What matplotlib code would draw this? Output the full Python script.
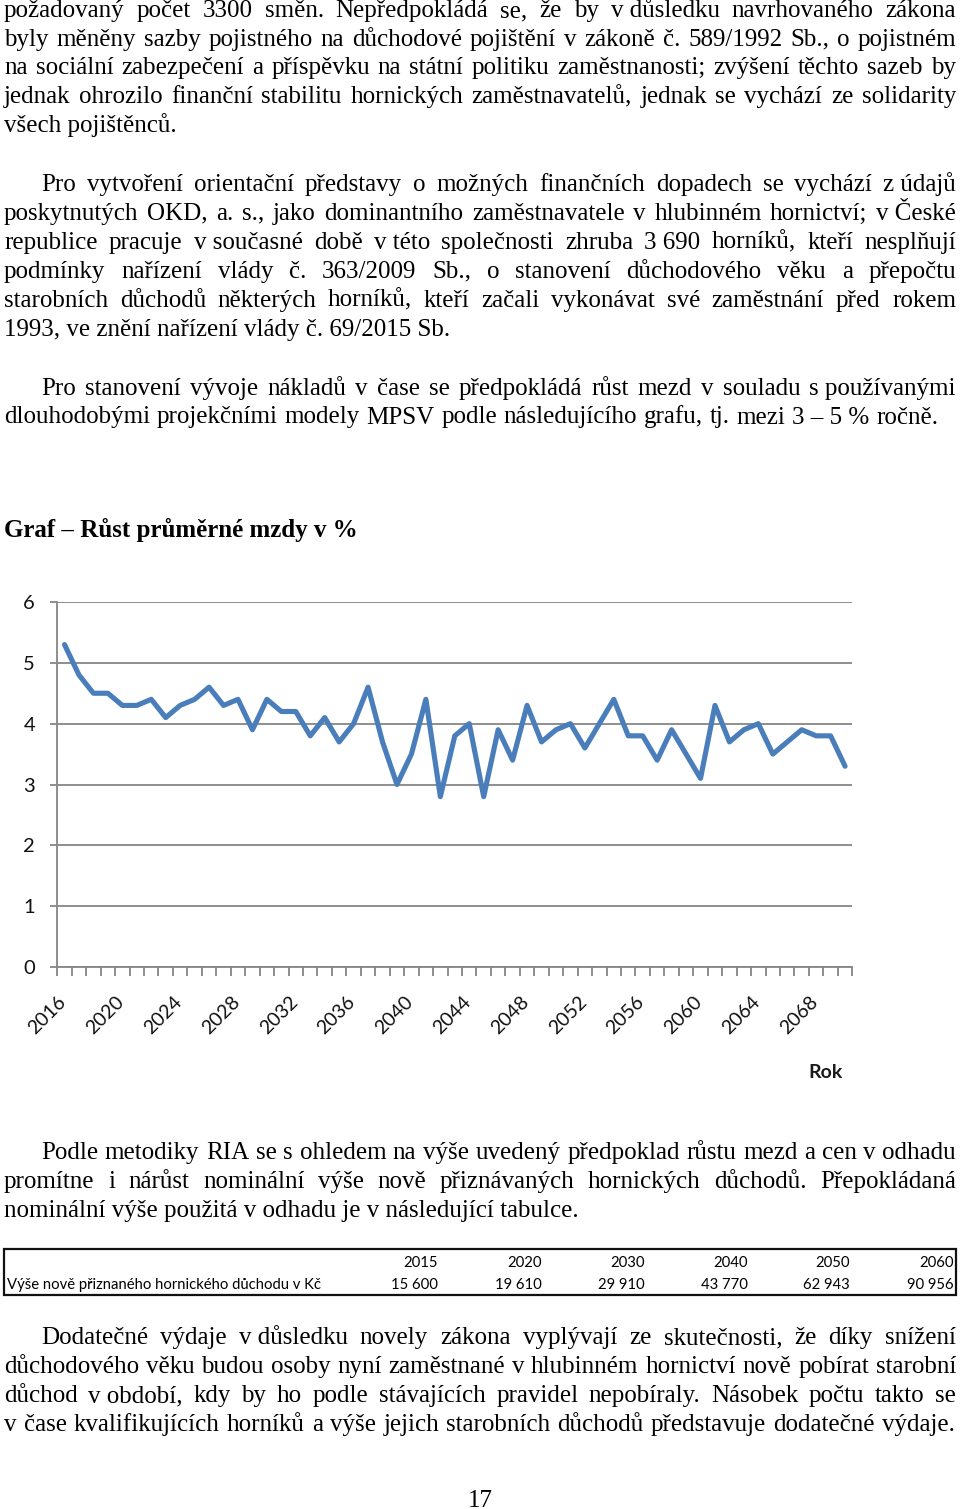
import matplotlib
matplotlib.use("Agg")
import matplotlib.pyplot as plt
from matplotlib.patches import Rectangle
from matplotlib.transforms import ScaledTranslation
import numpy as np

# ---------------- data ----------------
years = list(range(2016, 2071))
growth = [5.3, 4.8, 4.5, 4.5, 4.3, 4.3, 4.4, 4.1, 4.3, 4.4,
          4.6, 4.3, 4.4, 3.9, 4.4, 4.2, 4.2, 3.8, 4.1, 3.7,
          4.0, 4.6, 3.7, 3.0, 3.5, 4.4, 2.8, 3.8, 4.0, 2.8,
          3.9, 3.4, 4.3, 3.7, 3.9, 4.0, 3.6, 4.0, 4.4, 3.8,
          3.8, 3.4, 3.9, 3.5, 3.1, 4.3, 3.7, 3.9, 4.0, 3.5,
          3.7, 3.9, 3.8, 3.8, 3.3]
ytick_values = [0, 1, 2, 3, 4, 5, 6]
xaxis_title = "Rok"

table_years = ["2015", "2020", "2030", "2040", "2050", "2060"]
table_values = ["15\u00a0600", "19\u00a0610", "29\u00a0910", "43\u00a0770", "62\u00a0943", "90\u00a0956"]
table_label = "Výše nově přiznaného hornického důchodu v Kč"

NB = "\u00a0"
# (text, x_left, baseline_y, x_right or None for ragged)
doc_lines = [
    ("požadovaný počet 3300 směn. Nepředpokládá se, že by v" + NB + "důsledku navrhovaného zákona", 4, 17, 956),
    ("byly měněny sazby pojistného na důchodové pojištění v zákoně č. 589/1992 Sb., o pojistném", 4, 45.7, 956),
    ("na sociální zabezpečení a příspěvku na státní politiku zaměstnanosti; zvýšení těchto sazeb by", 4, 74.4, 956),
    ("jednak ohrozilo finanční stabilitu hornických zaměstnavatelů, jednak se vychází ze solidarity", 4, 103.2, 956),
    ("všech pojištěnců.", 4, 132, None),
    ("Pro vytvoření orientační představy o možných finančních dopadech se vychází z" + NB + "údajů", 41, 190.7, 956),
    ("poskytnutých OKD, a. s., jako dominantního zaměstnavatele v hlubinném hornictví; v" + NB + "České", 4, 219.7, 956),
    ("republice pracuje v" + NB + "současné době v" + NB + "této společnosti zhruba 3" + NB + "690 horníků, kteří nesplňují", 4, 248.7, 956),
    ("podmínky nařízení vlády č. 363/2009 Sb., o stanovení důchodového věku a přepočtu", 4, 277.7, 956),
    ("starobních důchodů některých horníků, kteří začali vykonávat své zaměstnání před rokem", 4, 306.7, 956),
    ("1993, ve znění nařízení vlády č. 69/2015 Sb.", 4, 335.7, None),
    ("Pro stanovení vývoje nákladů v čase se předpokládá růst mezd v souladu s" + NB + "používanými", 41, 395, 956),
    ("dlouhodobými projekčními modely MPSV podle následujícího grafu, tj. mezi 3" + NB + "–" + NB + "5" + NB + "% ročně.", 4, 423.5, 938),
    ("Podle metodiky RIA se s ohledem na výše uvedený předpoklad růstu mezd a cen v odhadu", 41, 1159, 956),
    ("promítne i nárůst nominální výše nově přiznávaných hornických důchodů. Přepokládaná", 4, 1188, 956),
    ("nominální výše použitá v odhadu je v následující tabulce.", 4, 1217, None),
    ("Dodatečné výdaje v" + NB + "důsledku novely zákona vyplývají ze skutečnosti, že díky snížení", 41, 1344, 956),
    ("důchodového věku budou osoby nyní zaměstnané v hlubinném hornictví nově pobírat starobní", 4, 1373, 956),
    ("důchod v" + NB + "období, kdy by ho podle stávajících pravidel nepobíraly. Násobek počtu takto se", 4, 1402, 956),
    ("v čase kvalifikujících horníků a výše jejich starobních důchodů představuje dodatečné výdaje.", 4, 1431, 955),
]
heading = "Graf – Růst průměrné mzdy v %"
page_number = "17"

# ---------------- figure ----------------
W, H = 960, 1509
fig = plt.figure(figsize=(W / 100, H / 100), dpi=100)
fig.patch.set_facecolor("white")
doc = fig.add_axes([0, 0, 1, 1])
doc.set_xlim(0, W)
doc.set_ylim(H, 0)
doc.axis("off")
renderer = fig.canvas.get_renderer()

serif = dict(family="Liberation Serif", fontsize=18, color="black")


def width_of(s, **kw):
    t = doc.text(0, 0, s, **kw)
    w = t.get_window_extent(renderer=renderer).width
    t.remove()
    return w


def draw_line(text, x0, yb, x1=None, **kw):
    if x1 is None:
        doc.text(x0, yb, text, va="baseline", ha="left", **kw)
        return
    words = text.split(" ")
    widths = [width_of(w, **kw) for w in words]
    gap = (x1 - x0 - sum(widths)) / max(len(words) - 1, 1)
    x = x0
    for w, wd in zip(words, widths):
        doc.text(x, yb, w, va="baseline", ha="left", **kw)
        x += wd + gap


for text, x0, yb, x1 in doc_lines:
    draw_line(text, x0, yb, x1, **serif)

doc.text(4, 537, heading, va="baseline", ha="left", fontweight="bold",
         family="Liberation Serif", fontsize=18, color="black")
doc.text(480, 1507, page_number, va="baseline", ha="center", **serif)

# ---------------- table ----------------
doc.add_patch(Rectangle((4, 1249), 952, 46, fill=False, edgecolor="#111111", lw=1.6))
tab_font = dict(family="Lato", color="black")
fs_label = 10 * 315 / width_of(table_label, fontsize=10, **tab_font)
doc.text(7, 1289, table_label, va="baseline", ha="left", fontsize=fs_label, **tab_font)
col_right = [438, 542, 645, 748, 850, 954]
for xr, yr, val in zip(col_right, table_years, table_values):
    doc.text(xr, 1267, yr, va="baseline", ha="right", fontsize=fs_label, **tab_font)
    doc.text(xr, 1289, val, va="baseline", ha="right", fontsize=fs_label, **tab_font)

# ---------------- chart ----------------
left_px, right_px, top_px, bottom_px = 57.3, 852.3, 602, 967
ax = fig.add_axes([left_px / W, 1 - bottom_px / H, (right_px - left_px) / W, (bottom_px - top_px) / H])
ax.set_facecolor("none")
xpos = np.arange(len(years))
ax.plot(xpos, growth, color="#4a7ebb", lw=3.7, solid_joinstyle="round", solid_capstyle="round", zorder=3)
ax.set_xlim(-0.5, len(years) - 0.5)
ax.set_ylim(0, 6)
gray = "#868686"
for s in ["top", "right"]:
    ax.spines[s].set_visible(False)
for s in ["left", "bottom"]:
    ax.spines[s].set_color(gray)
    ax.spines[s].set_linewidth(1.3)
ax.set_yticks(ytick_values)
ax.set_yticklabels([str(v) for v in ytick_values])
ax.yaxis.grid(True, color=gray, lw=1.3)
ax.set_axisbelow(True)
ax.tick_params(axis="y", length=5, width=1.3, color=gray, pad=11, labelsize=14.5,
               labelcolor="#111111", labelfontfamily="Lato")

ax.set_xticks(xpos[::4])
ax.set_xticklabels([str(y) for y in years[::4]], rotation=45, ha="right")
ax.set_xticks(np.arange(-0.5, len(years), 1), minor=True)
ax.tick_params(axis="x", which="major", length=0, pad=19, labelsize=14,
               labelcolor="#111111", labelfontfamily="Lato")
ax.tick_params(axis="x", which="minor", length=6.5, width=1.3, color=gray)
offset = ScaledTranslation(5 / 100, 0, fig.dpi_scale_trans)
for lab in ax.get_xticklabels():
    lab.set_transform(lab.get_transform() + offset)

doc.text(826, 1072, xaxis_title, ha="center", va="center", fontsize=14,
         fontweight="bold", family="Lato", color="#1a1a1a")

fig.savefig("out.png", dpi=100, facecolor="white")
